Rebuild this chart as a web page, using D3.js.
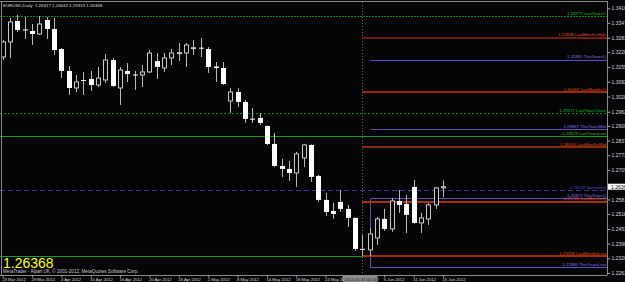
<!DOCTYPE html>
<html><head><meta charset="utf-8">
<script src="https://cdn.jsdelivr.net/npm/d3@7/dist/d3.min.js"></script>
<style>html,body{margin:0;padding:0;background:#050507;overflow:hidden}svg{display:block}</style>
</head><body>
<svg id="c" width="625" height="282"></svg>
<script>
const dates = ["2012-03-23","2012-03-26","2012-03-27","2012-03-28","2012-03-29","2012-03-30",
"2012-04-02","2012-04-03","2012-04-04","2012-04-05","2012-04-06","2012-04-09","2012-04-10","2012-04-11","2012-04-12","2012-04-13","2012-04-16","2012-04-17","2012-04-18","2012-04-19","2012-04-20","2012-04-23","2012-04-24","2012-04-25","2012-04-26","2012-04-27","2012-04-30",
"2012-05-01","2012-05-02","2012-05-03","2012-05-04","2012-05-07","2012-05-08","2012-05-09","2012-05-10","2012-05-11","2012-05-14","2012-05-15","2012-05-16","2012-05-17","2012-05-18","2012-05-21","2012-05-22","2012-05-23","2012-05-24","2012-05-25","2012-05-28","2012-05-29","2012-05-30","2012-05-31",
"2012-06-01","2012-06-04","2012-06-05","2012-06-06","2012-06-07","2012-06-08","2012-06-11","2012-06-12","2012-06-13","2012-06-14","2012-06-15"];

const opens = [1.31994,1.32644,1.33554,1.33186,1.33121,1.32991,1.33598,1.33208,1.32341,1.31387,
1.30650,1.30997,1.31040,1.30780,1.30997,1.31864,1.30650,1.31387,1.31235,1.31214,
1.31344,1.31820,1.31517,1.31951,1.32154,1.32167,1.32371,1.32397,1.32341,1.31582,
1.31517,1.30086,1.30477,1.30043,1.29319,1.29350,1.29003,1.28222,1.27269,1.27139,
1.26965,1.27616,1.28179,1.26835,1.25795,1.25318,1.25708,1.25405,1.25015,1.23671,
1.23627,1.24148,1.24971,1.24538,1.25751,1.25621,1.26358,1.24798,1.24971,1.25578,1.26317];
const highs = [1.32731,1.33685,1.33815,1.33728,1.33424,1.33771,1.33728,1.33685,1.32384,1.31604,
1.31214,1.31344,1.31387,1.31560,1.32124,1.31951,1.31560,1.31734,1.31387,1.31647,
1.32297,1.32167,1.32167,1.32341,1.32601,1.32601,1.32731,1.32818,1.32427,1.31777,
1.31777,1.30650,1.30650,1.30130,1.29783,1.29566,1.29024,1.28699,1.27572,1.27485,
1.27876,1.28222,1.28201,1.26879,1.26098,1.25665,1.26228,1.25578,1.25036,1.24278,
1.24581,1.25058,1.25405,1.25882,1.26228,1.26012,1.26662,1.25231,1.25665,1.26358,1.26642];
const lows = [1.31864,1.31951,1.33078,1.32774,1.32514,1.32948,1.32774,1.32081,1.31084,1.30347,
1.30477,1.30347,1.30520,1.30693,1.30867,1.30693,1.29913,1.30910,1.30563,1.30693,
1.31300,1.31040,1.31344,1.31647,1.31820,1.31560,1.32081,1.31994,1.31300,1.30910,
1.30780,1.29566,1.29826,1.29133,1.29133,1.29046,1.28179,1.27225,1.26792,1.26618,
1.26358,1.27225,1.26575,1.25708,1.25101,1.24971,1.25275,1.24624,1.23584,1.23367,
1.23367,1.23844,1.24451,1.24408,1.25231,1.24364,1.24754,1.24364,1.24711,1.25405,1.25913];
const closes = [1.32644,1.33511,1.33164,1.33151,1.32991,1.33424,1.33208,1.32297,1.31387,1.30650,
1.30910,1.30975,1.30780,1.31084,1.31864,1.30737,1.31430,1.31257,1.31201,1.31344,
1.32167,1.31560,1.31951,1.32167,1.32180,1.32514,1.32397,1.32371,1.31560,1.31517,
1.30823,1.30477,1.30043,1.29306,1.29293,1.29133,1.28222,1.27269,1.27139,1.26965,
1.27789,1.28179,1.26792,1.25795,1.25275,1.25188,1.25405,1.25015,1.23671,1.23636,
1.24321,1.24971,1.24538,1.25751,1.25578,1.25145,1.24798,1.25015,1.25578,1.26315,1.26368];

const priceTicks = [1.34105,1.33475,1.32830,1.32200,1.31555,1.30920,1.30280,1.29620,1.29005,1.28370,1.27730,1.27090,1.25815,1.25180,1.24535,1.23900,1.23260,1.22630];
const currentPrice = 1.26368;
const crosshairDate = "2012-05-31";
const crosshairLabel = "2012.05.31 00:00";
const headerText = "EURUSD,Daily  1.26317 1.26642 1.25913 1.26368";
const copyrightText = "MetaTrader - Alpari UK, \u00a9 2001-2012, MetaQuotes Software Corp.";

// horizontal levels
const lastYearsValues = [1.33777, 1.29577, 1.28573];
const lastYearsLabels = ["1.33777 LastYearsO", "1.29577 LastYearsClose", "1.28573 LastYearsLow"];
const lastMonthsValues = [1.32838, 1.30462, 1.28094, 1.25726, 1.23358];
const lastMonthsLabels = ["1.32838 LastMonthsHigh", "1.30462 LastMonthsQ", "1.28094 LastMonthsMid", "1.25726 LastMonthsQ", "1.23358 LastMonthsLow"];
const thisYearsValues = [1.31881, 1.28867, 1.25873, 1.22880];
const thisYearsLabels = ["1.31881 ThisYearsQ", "1.28867 ThisYearsMid", "1.25873 ThisYearsQ", "1.22880 ThisYearsLow"];
const dashedValue = 1.26232;
const dashedLabel = "1.26232 Sentiment";

const svg = d3.select("#c");
const W = 625, H = 282, axisX = 607, axisY = 275;
const FONT = "'Liberation Sans', Arial, sans-serif";

svg.append("rect").attr("width", W).attr("height", H).attr("fill", "#050507");

const x = d3.scalePoint().domain(dates).range([2.7, 443]);
const y = d3.scaleLinear().domain([1.22630, 1.34105]).range([272.9, 8.3]);

svg.append("defs").append("clipPath").attr("id", "clip")
  .append("rect").attr("x", 0).attr("y", 2).attr("width", axisX).attr("height", axisY - 2);

const plot = svg.append("g").attr("clip-path", "url(#clip)");

// borders
svg.append("line").attr("x1", 0).attr("x2", axisX).attr("y1", 1.5).attr("y2", 1.5).attr("stroke", "#8a8a8a");
svg.append("line").attr("x1", 1.5).attr("x2", 1.5).attr("y1", 1).attr("y2", axisY).attr("stroke", "#8a8a8a");

// crosshair vertical dotted
const cx = Math.round(x(crosshairDate)) + 0.5;
plot.append("line").attr("x1", cx).attr("x2", cx).attr("y1", 2).attr("y2", axisY)
  .attr("stroke", "#6a6a6a").attr("stroke-dasharray", "1,2");

const crisp = v => Math.round(v) + 0.5;
const lmStart = cx - 0.5;
const tyStart = Math.round(x("2012-06-01")) + 0.5;

// green last-year levels (full width)
const greenStyles = [{c:"#0a8a0a", d:"2,1"}, {c:"#0a8a0a", d:"2,2"}, {c:"#10a010", d:null}];
lastYearsValues.forEach((v, i) => {
  plot.append("line").attr("x1", 0).attr("x2", axisX).attr("y1", crisp(y(v))).attr("y2", crisp(y(v)))
    .attr("stroke", greenStyles[i].c).attr("stroke-width", 1.2)
    .attr("stroke-dasharray", greenStyles[i].d);
});
// green line under last month low (left part)
plot.append("line").attr("x1", 0).attr("x2", lmStart).attr("y1", crisp(y(lastMonthsValues[4]))).attr("y2", crisp(y(lastMonthsValues[4])))
  .attr("stroke", "#10a010").attr("stroke-width", 1.2);

// dashed level
plot.append("line").attr("x1", 0).attr("x2", axisX).attr("y1", crisp(y(dashedValue))).attr("y2", crisp(y(dashedValue)))
  .attr("stroke", "#3a3a9a").attr("stroke-dasharray", "5,3");

// this-year levels
thisYearsValues.forEach(v => {
  plot.append("line").attr("x1", tyStart).attr("x2", axisX).attr("y1", crisp(y(v))).attr("y2", crisp(y(v)))
    .attr("stroke", "#5a52b4");
});
plot.append("line").attr("x1", tyStart).attr("x2", tyStart)
  .attr("y1", crisp(y(thisYearsValues[2]))).attr("y2", crisp(y(thisYearsValues[3])))
  .attr("stroke", "#5a52b4");

// last-month levels
const lmColors = ["#6e1c08", "#9a2a08", "#862a10", "#a83010", "#a02a0a"];
lastMonthsValues.forEach((v, i) => {
  plot.append("line").attr("x1", lmStart).attr("x2", axisX).attr("y1", Math.round(y(v))).attr("y2", Math.round(y(v)))
    .attr("stroke", lmColors[i]).attr("stroke-width", 2);
});

// candles
const candles = dates.map((d, i) => ({d, o: opens[i], h: highs[i], l: lows[i], c: closes[i]}));
const cg = plot.append("g");
candles.forEach(k => {
  const xc = Math.round(x(k.d)) + 0.5;
  cg.append("line").attr("x1", xc).attr("x2", xc).attr("y1", y(k.h)).attr("y2", y(k.l))
    .attr("stroke", "#b8b8b8");
  const top = y(Math.max(k.o, k.c)), bot = y(Math.min(k.o, k.c));
  const hgt = Math.max(1, bot - top);
  if (k.c > k.o) {
    cg.append("rect").attr("x", xc - 2).attr("y", top).attr("width", 4).attr("height", hgt)
      .attr("fill", "#050507").attr("stroke", "#c8c8c8").attr("stroke-width", 1);
  } else {
    cg.append("rect").attr("x", xc - 2.5).attr("y", top).attr("width", 5).attr("height", hgt)
      .attr("fill", "#ffffff");
  }
});

// level labels
const lbl = (txt, v, col) => plot.append("text").attr("x", axisX - 1).attr("y", y(v) - 1.2)
  .attr("text-anchor", "end").attr("font-family", FONT).attr("font-size", 4.3).attr("fill", col).text(txt);
lastYearsLabels.forEach((t, i) => lbl(t, lastYearsValues[i], "#10c010"));
lastMonthsLabels.forEach((t, i) => lbl(t, lastMonthsValues[i], "#e0481a"));
thisYearsLabels.forEach((t, i) => lbl(t, thisYearsValues[i], "#7c74e8"));
lbl(dashedLabel, dashedValue, "#4a4ac0");

// right price axis
const yAxis = svg.append("g").attr("transform", `translate(${axisX + 0.5},0)`)
  .call(d3.axisRight(y).tickValues(priceTicks).tickFormat(d3.format(".5f")).tickSize(3).tickPadding(1));
yAxis.select(".domain").attr("stroke", "#8a8a8a").attr("d", `M0,1V${axisY}`);
yAxis.selectAll(".tick line").attr("stroke", "#a0a0a0");
yAxis.selectAll(".tick text").attr("fill", "#d8d8d8").attr("font-family", FONT).attr("font-size", 5);

// current price box
const cpy = y(currentPrice);
svg.append("rect").attr("x", axisX + 1).attr("y", cpy - 3).attr("width", 20).attr("height", 6).attr("fill", "#ffffff");
svg.append("text").attr("x", axisX + 4).attr("y", cpy + 1.8).attr("font-family", FONT).attr("font-size", 5)
  .attr("fill", "#000").text(d3.format(".5f")(currentPrice));

// bottom time axis
const labelDates = dates.filter((d, i) => i % 4 === 0);
const fmt = d3.timeFormat("%-d %b %Y");
const parse = d3.timeParse("%Y-%m-%d");
const xAxis = svg.append("g").attr("transform", `translate(0,${axisY + 0.5})`)
  .call(d3.axisBottom(x).tickValues(labelDates).tickFormat(d => fmt(parse(d))).tickSize(2).tickPadding(1));
xAxis.select(".domain").attr("stroke", "#8a8a8a").attr("d", `M0,0H${axisX}`);
xAxis.selectAll(".tick line").attr("stroke", "#a0a0a0");
xAxis.selectAll(".tick text").attr("fill", "#d8d8d8").attr("font-family", FONT).attr("font-size", 4.2)
  .attr("text-anchor", "start").attr("dx", -1);

// crosshair date box
svg.append("rect").attr("x", cx - 20).attr("y", axisY + 1).attr("width", 35).attr("height", 6).attr("fill", "#8c8c8c");
svg.append("text").attr("x", cx - 18.5).attr("y", axisY + 5.6).attr("font-family", FONT).attr("font-size", 4.3)
  .attr("fill", "#202020").text(crosshairLabel);

// header and footer texts
svg.append("text").attr("x", 3).attr("y", 7).attr("font-family", FONT).attr("font-size", 4.4)
  .attr("fill", "#dcdcdc").attr("xml:space", "preserve").text(headerText);
svg.append("text").attr("x", 3).attr("y", 268.3).attr("font-family", FONT).attr("font-size", 14)
  .attr("fill", "#ffff00").text(d3.format(".5f")(currentPrice));
svg.append("text").attr("x", 3).attr("y", 272.5).attr("font-family", FONT).attr("font-size", 4.6)
  .attr("fill", "#c8c8c8").text(copyrightText);
</script>
</body></html>
